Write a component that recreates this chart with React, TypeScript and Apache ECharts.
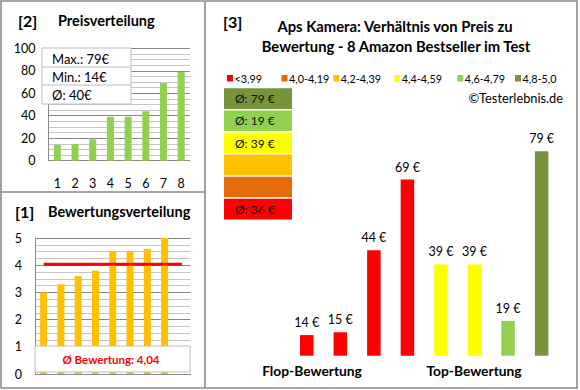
import React, { useEffect, useRef } from "react";
import * as echarts from "echarts";

// ---------- data ----------
const priceCategories = ["1", "2", "3", "4", "5", "6", "7", "8"];
const pricesSorted = [14, 15, 19, 39, 39, 44, 69, 79];
const ratingCategories = ["1", "2", "3", "4", "5", "6", "7", "8", "9"];
const ratingsSorted = [3.0, 3.3, 3.6, 3.8, 4.5, 4.5, 4.6, 5.0];
const productCategories = ["P1", "P2", "P3", "P4", "P5", "P6", "P7", "P8"];
const productPrices = [14, 15, 44, 69, 39, 39, 19, 79];
const productRatings = [3.0, 3.3, 3.6, 3.8, 4.5, 4.5, 4.6, 5.0];
const bandLabels = ["<3,99", "4,0-4,19", "4,2-4,39", "4,4-4,59", "4,6-4,79", "4,8-5,0"];
const bandUpper = [4.0, 4.2, 4.4, 4.6, 4.8, 5.01];
const bandColors = ["#FF0000", "#E46C0A", "#FFC000", "#FFFF00", "#92D050", "#77933C"];
const priceTicks = [0, 20, 40, 60, 80, 100];
const ratingTicks = [0, 1, 2, 3, 4, 5];

const FONT = "Lato, 'Noto Sans', sans-serif";

function bandOf(r: number) {
  for (let i = 0; i < bandUpper.length; i++) if (r < bandUpper[i]) return i;
  return bandUpper.length - 1;
}

export default function App() {
  const ref = useRef<HTMLDivElement>(null);
  useEffect(() => {
    if (!ref.current) return;
    const chart = echarts.init(ref.current, undefined, { renderer: "svg" });

    const maxP = Math.max(...pricesSorted);
    const minP = Math.min(...pricesSorted);
    const avgP = Math.round(pricesSorted.reduce((a, b) => a + b, 0) / pricesSorted.length);
    const avgR = ratingsSorted.reduce((a, b) => a + b, 0) / ratingsSorted.length;
    const avgRText = avgR.toFixed(2).replace(".", ",");

    const groupAvg: (number | null)[] = bandLabels.map((_, bi) => {
      const vals = productPrices.filter((_, i) => bandOf(productRatings[i]) === bi);
      if (!vals.length) return null;
      return Math.round(vals.reduce((a, b) => a + b, 0) / vals.length);
    });

    const major = "#8a8a8a";
    const minor = "#c6c6c6";

    const graphics: any[] = [];
    graphics.push({ type: "rect", z: 200, shape: { x: 1, y: 1, width: 576, height: 387 }, style: { fill: "none", stroke: "#8a8a8a", lineWidth: 1.6 } });
    graphics.push({ type: "line", z: 200, shape: { x1: 205, y1: 1, x2: 205, y2: 388 }, style: { stroke: "#8a8a8a", lineWidth: 1.6 } });
    graphics.push({ type: "line", z: 200, shape: { x1: 1, y1: 192, x2: 205, y2: 192 }, style: { stroke: "#8a8a8a", lineWidth: 1.6 } });

    const txt = (text: string, x: number, y: number, size: number, bold: boolean, align = "left", fill = "#000") => ({
      type: "text",
      z: 210,
      style: {
        text, x, y, fill,
        fontSize: size, fontWeight: bold ? "bold" : "normal", fontFamily: FONT,
        textAlign: align, textVerticalAlign: "middle",
      },
    });

    graphics.push(txt("[2]", 18, 20, 16, true));
    graphics.push(txt("Preisverteilung", 58, 20, 14.5, true));
    graphics.push(txt("[1]", 15, 211, 16, true));
    graphics.push(txt("Bewertungsverteilung", 48, 211, 14.5, true));
    graphics.push(txt("[3]", 223, 21, 16, true));
    graphics.push(txt("Aps Kamera: Verhältnis von Preis zu", 395, 26, 14.8, true, "center"));
    graphics.push(txt("Bewertung - 8 Amazon Bestseller im Test", 396, 46, 14.8, true, "center"));
    graphics.push(txt("©Testerlebnis.de", 563, 98, 12.8, false, "right"));
    graphics.push(txt("Flop-Bewertung", 312, 370, 13.8, true, "center"));
    graphics.push(txt("Top-Bewertung", 474, 370, 13.8, true, "center"));

    graphics.push({ type: "rect", z: 205, shape: { x: 42, y: 48, width: 89, height: 56 }, style: { fill: "#fff", stroke: "#bdbdbd", lineWidth: 1 } });
    graphics.push({ type: "line", z: 206, shape: { x1: 42, y1: 67, x2: 131, y2: 67 }, style: { stroke: "#bdbdbd", lineWidth: 1 } });
    graphics.push({ type: "line", z: 206, shape: { x1: 42, y1: 85, x2: 131, y2: 85 }, style: { stroke: "#bdbdbd", lineWidth: 1 } });
    graphics.push(txt(`Max.: ${maxP}€`, 52, 58.5, 13, false));
    graphics.push(txt(`Min.: ${minP}€`, 52, 77, 13, false));
    graphics.push(txt(`Ø: ${avgP}€`, 52, 95, 13, false));

    graphics.push({ type: "rect", z: 205, shape: { x: 35, y: 346, width: 155, height: 26 }, style: { fill: "#fff", stroke: "#bdbdbd", lineWidth: 1 } });
    graphics.push(txt(`Ø Bewertung: ${avgRText}`, 111, 359.5, 11.5, true, "center", "#FF0000"));

    const legendX = [227, 281.5, 333.3, 394.3, 457.3, 515];
    bandLabels.forEach((lab, i) => {
      graphics.push({ type: "rect", z: 205, shape: { x: legendX[i], y: 75, width: 6, height: 6.5 }, style: { fill: bandColors[i] } });
      graphics.push(txt(lab, legendX[i] + 7.5, 78.5, 10.8, false));
    });

    for (let k = 0; k < bandLabels.length; k++) {
      const bi = bandLabels.length - 1 - k;
      const y = 88.3 + k * 22.1;
      graphics.push({ type: "rect", z: 205, shape: { x: 224, y, width: 68, height: 20.6 }, style: { fill: bandColors[bi] } });
      if (groupAvg[bi] !== null) {
        graphics.push(txt(`Ø: ${groupAvg[bi]} €`, 235, y + 10.5, 12, false, "left", "#111"));
      }
    }

    const option: any = {
      animation: false,
      backgroundColor: "#fff",
      grid: [
        { left: 48.5, top: 48.3, width: 141.5, height: 112.4 },
        { left: 35, top: 238, width: 155.5, height: 136 },
        { left: 290, top: 92, width: 268.4, height: 263.7 },
      ],
      xAxis: [
        {
          gridIndex: 0, type: "category", data: priceCategories,
          axisTick: { show: false },
          axisLine: { lineStyle: { color: major, width: 1 } },
          axisLabel: { color: "#000", fontSize: 12.5, fontFamily: FONT, margin: 16 },
        },
        {
          gridIndex: 1, type: "category", data: ratingCategories,
          axisTick: { show: false },
          axisLine: { lineStyle: { color: major, width: 1 } },
          axisLabel: { show: false },
        },
        {
          gridIndex: 2, type: "category", data: productCategories,
          axisTick: { show: false }, axisLine: { show: false }, axisLabel: { show: false },
        },
      ],
      yAxis: [
        {
          gridIndex: 0, type: "value", min: priceTicks[0], max: priceTicks[priceTicks.length - 1],
          interval: priceTicks[1] - priceTicks[0],
          axisLine: { show: true, lineStyle: { color: major } },
          axisTick: { show: false },
          axisLabel: { color: "#000", fontSize: 12.5, fontFamily: FONT, margin: 13 },
          splitLine: { lineStyle: { color: major, width: 1 } },
          minorTick: { show: false, splitNumber: 4 },
          minorSplitLine: { show: true, lineStyle: { color: minor, width: 1 } },
        },
        {
          gridIndex: 1, type: "value", min: ratingTicks[0], max: ratingTicks[ratingTicks.length - 1],
          interval: ratingTicks[1] - ratingTicks[0],
          axisLine: { show: true, lineStyle: { color: major } },
          axisTick: { show: false },
          axisLabel: { color: "#000", fontSize: 12.5, fontFamily: FONT, margin: 13 },
          splitLine: { lineStyle: { color: major, width: 1 } },
          minorTick: { show: false, splitNumber: 4 },
          minorSplitLine: { show: true, lineStyle: { color: minor, width: 1 } },
        },
        {
          gridIndex: 2, type: "value", min: 6.7, max: 100,
          show: false, splitLine: { show: false },
        },
      ],
      series: [
        {
          type: "bar", xAxisIndex: 0, yAxisIndex: 0, data: pricesSorted,
          barWidth: 7, itemStyle: { color: "#92D050" },
        },
        {
          type: "bar", xAxisIndex: 1, yAxisIndex: 1, data: ratingsSorted,
          barWidth: 7, itemStyle: { color: "#FFC000" },
        },
        {
          type: "line", xAxisIndex: 1, yAxisIndex: 1,
          data: ratingCategories.map(() => avgR),
          symbol: "none", lineStyle: { color: "#FF0000", width: 3 }, z: 5,
        },
        {
          type: "bar", xAxisIndex: 2, yAxisIndex: 2,
          data: productPrices.map((p, i) => ({ value: p, itemStyle: { color: bandColors[bandOf(productRatings[i])] } })),
          barWidth: 13.5,
          label: {
            show: true, position: "top", distance: 6, formatter: "{c} €",
            color: "#000", fontSize: 12.5, fontFamily: FONT,
          },
        },
      ],
      graphic: graphics,
    };
    chart.setOption(option);
    return () => chart.dispose();
  }, []);
  return <div ref={ref} style={{ position: "fixed", left: 0, top: 0, width: 580, height: 390 }} />;
}
